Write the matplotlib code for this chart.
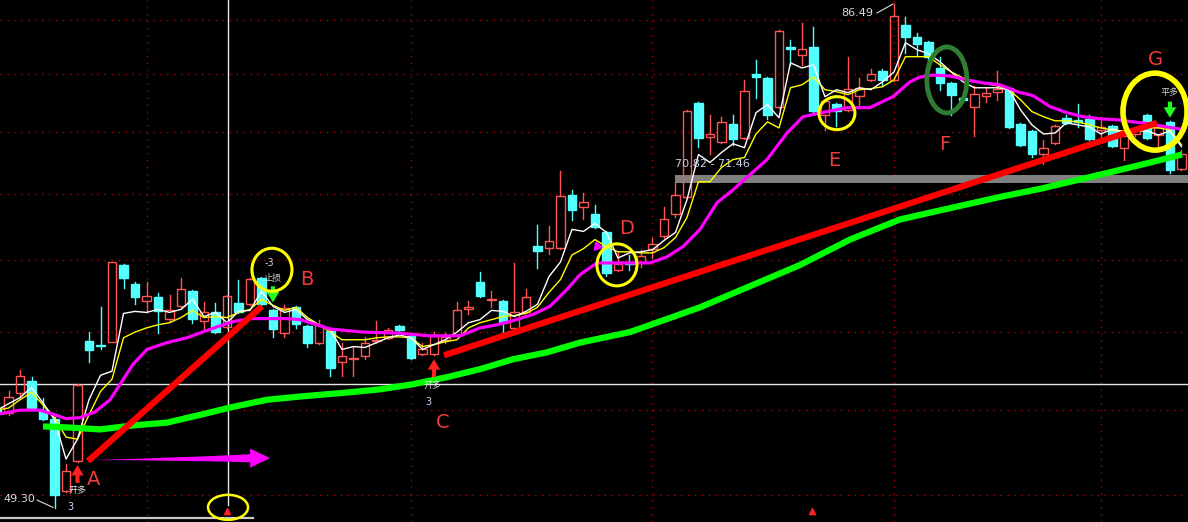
import numpy as np
import matplotlib.pyplot as plt
from matplotlib.patches import Ellipse, Rectangle
from matplotlib.transforms import ScaledTranslation

# daily candles (price), one per trading day
opens = [
    55.06, 54.82, 56.08, 56.79, 54.99, 54.47, 50.26, 51.95, 59.42, 59.13,
    59.35, 64.66, 63.27, 62.08, 62.36, 60.90, 61.74, 62.78, 60.76, 61.32,
    60.34, 61.94, 61.87, 63.75, 61.46, 59.93, 61.67, 60.41, 59.29, 60.06,
    58.01, 58.20, 58.39, 59.42, 59.61, 60.41, 59.74, 58.52, 58.52, 59.48,
    59.80, 61.53, 63.41, 62.15, 62.08, 60.27, 61.32, 66.06, 65.91, 65.91,
    69.90, 69.00, 68.47, 67.04, 64.31, 64.87, 64.87, 65.84, 66.74, 68.47,
    69.75, 77.49, 74.58, 74.18, 75.67, 74.50, 79.99, 79.65, 77.14, 82.48,
    81.74, 82.48, 76.45, 77.40, 76.88, 78.09, 79.47, 80.27, 79.47, 84.50,
    83.40, 82.94, 80.54, 79.21, 77.92, 77.14, 78.09, 78.44, 78.78, 75.67,
    75.07, 73.21, 74.09, 76.19, 76.02, 76.10, 75.16, 75.50, 73.69, 74.82,
    76.45, 74.74, 75.84, 71.99]
highs = [
    55.19, 56.15, 57.49, 57.05, 55.76, 54.58, 51.78, 56.60, 59.99, 61.67,
    64.87, 64.73, 63.41, 63.41, 62.64, 62.50, 63.75, 62.85, 62.01, 61.94,
    62.50, 63.55, 63.75, 63.82, 61.53, 61.80, 61.74, 60.48, 60.83, 60.13,
    59.29, 59.03, 59.67, 60.76, 60.27, 60.48, 59.80, 59.29, 59.99, 59.93,
    62.01, 62.08, 64.17, 62.78, 62.15, 64.80, 62.92, 67.57, 67.49, 71.83,
    70.30, 70.06, 69.15, 67.12, 65.69, 65.39, 65.76, 66.66, 69.00, 70.86,
    76.88, 77.57, 76.45, 76.28, 76.45, 79.47, 81.28, 79.73, 84.04, 83.12,
    84.69, 84.32, 77.74, 77.49, 81.56, 79.65, 80.45, 80.45, 86.49, 85.25,
    83.77, 83.03, 81.56, 79.30, 78.09, 78.95, 78.78, 80.27, 78.87, 75.76,
    75.16, 74.34, 75.58, 76.45, 77.40, 76.45, 76.28, 75.58, 74.74, 75.33,
    76.54, 75.50, 75.93, 73.53]
lows = [
    54.70, 54.70, 55.76, 55.06, 54.41, 49.30, 50.20, 51.89, 58.01, 58.84,
    59.30, 62.99, 61.87, 61.32, 59.93, 60.69, 61.67, 60.62, 60.13, 59.93,
    60.27, 61.25, 61.80, 61.80, 59.67, 59.67, 60.27, 58.97, 59.22, 57.11,
    57.11, 57.11, 58.20, 59.29, 59.54, 60.06, 58.20, 58.46, 58.46, 59.29,
    59.74, 61.18, 62.36, 61.67, 59.99, 60.20, 61.25, 64.45, 65.46, 65.84,
    67.94, 68.09, 67.34, 63.89, 64.24, 64.31, 64.52, 65.16, 66.66, 68.17,
    69.68, 73.77, 73.13, 74.09, 73.93, 74.42, 77.92, 76.10, 77.05, 80.82,
    80.82, 76.71, 75.16, 75.50, 76.79, 77.05, 79.39, 78.95, 79.39, 81.92,
    81.74, 80.91, 78.61, 76.45, 77.57, 74.66, 77.57, 77.74, 75.33, 73.85,
    72.96, 72.32, 74.01, 75.67, 75.41, 74.34, 74.58, 73.77, 72.72, 74.66,
    74.42, 73.77, 71.67, 71.91]
closes = [
    54.82, 55.83, 57.11, 55.12, 54.47, 50.02, 51.37, 56.53, 58.78, 59.06,
    64.87, 63.75, 62.36, 62.43, 61.39, 61.46, 62.92, 60.90, 61.32, 59.99,
    62.43, 61.32, 63.68, 61.87, 60.20, 61.60, 60.55, 59.29, 60.48, 57.62,
    58.39, 58.26, 59.29, 59.48, 60.13, 60.13, 58.26, 58.90, 59.74, 59.67,
    61.46, 61.67, 62.43, 62.22, 60.62, 61.32, 62.36, 65.69, 66.44, 69.83,
    68.77, 69.37, 67.42, 64.10, 64.73, 64.73, 65.31, 66.21, 68.09, 69.90,
    76.79, 74.50, 74.82, 75.84, 74.42, 78.52, 79.73, 76.45, 83.95, 82.29,
    82.29, 76.79, 77.66, 76.79, 78.70, 78.78, 79.99, 79.47, 85.34, 83.40,
    82.75, 81.56, 79.21, 78.18, 77.74, 78.26, 78.35, 78.70, 75.41, 73.93,
    73.13, 73.69, 75.50, 75.76, 75.84, 74.42, 75.41, 73.85, 74.66, 75.16,
    74.50, 75.41, 71.91, 73.13]

# short averages (white, yellow), one value per candle
ma_white = [
    54.99, 55.38, 55.76, 56.40, 55.44, 54.41, 52.07, 53.24, 55.63, 57.17,
    57.43, 61.25, 61.39, 61.32, 61.53, 61.32, 61.53, 62.22, 61.04, 61.32,
    60.62, 61.39, 61.46, 62.78, 61.74, 61.32, 61.53, 60.83, 60.48, 60.13,
    58.84, 59.03, 58.97, 59.29, 59.61, 59.80, 59.61, 58.84, 59.16, 59.48,
    59.99, 60.62, 60.83, 61.46, 61.39, 61.04, 61.39, 61.88, 63.82, 64.87,
    67.27, 67.12, 67.72, 67.04, 65.16, 65.53, 65.61, 65.76, 66.44, 67.04,
    69.53, 73.13, 72.48, 73.29, 74.01, 73.69, 76.62, 77.31, 76.19, 81.00,
    80.54, 80.82, 78.00, 78.61, 78.35, 78.78, 78.61, 79.30, 80.17, 82.84,
    82.20, 81.83, 81.10, 80.17, 79.30, 78.78, 78.78, 78.78, 78.61, 76.88,
    75.58, 74.82, 74.90, 75.76, 75.58, 75.41, 74.82, 75.24, 74.90, 75.07,
    75.07, 74.74, 75.07, 73.77]
ma_yellow = [
    54.99, 55.12, 55.63, 56.08, 55.31, 54.53, 53.36, 53.24, 54.70, 56.15,
    56.92, 59.61, 59.99, 60.27, 60.48, 60.62, 60.97, 61.46, 60.97, 61.04,
    60.97, 61.32, 61.53, 62.22, 61.81, 61.46, 61.67, 60.97, 60.48, 59.99,
    59.48, 59.48, 59.48, 59.61, 59.67, 59.67, 59.61, 59.03, 59.16, 59.35,
    59.48, 60.27, 60.62, 60.83, 61.04, 61.11, 61.25, 61.67, 62.71, 63.61,
    65.38, 65.84, 66.51, 65.99, 65.61, 65.61, 65.53, 65.53, 65.91, 66.66,
    68.17, 70.94, 70.94, 72.08, 72.72, 72.88, 74.82, 75.84, 75.33, 78.78,
    79.04, 79.73, 78.61, 78.44, 78.18, 78.61, 78.70, 78.87, 79.47, 81.56,
    81.56, 81.56, 80.82, 80.17, 79.65, 79.30, 79.13, 78.95, 78.61, 77.74,
    76.71, 76.28, 75.93, 75.93, 75.84, 75.58, 75.33, 75.16, 75.07, 75.16,
    75.33, 75.33, 75.16, 73.93]

# magenta average, read at these day positions
mag_pos = [0.26, 2.0, 3.74, 5.04, 6.0, 7.22, 8.52, 9.83, 10.7, 11.83,
           13.04, 14.78, 16.52, 17.65, 19.13, 20.52, 22.0, 25.2, 26.35, 28.96,
           31.83, 34.78, 37.65, 40.26, 42.0, 43.48, 44.87, 46.6, 48.09, 49.57,
           50.7, 52.17, 53.3, 55.04, 56.78, 58.26, 59.65, 61.13, 62.61, 64.0,
           65.48, 66.96, 68.7, 70.09, 72.17, 73.9, 75.9, 77.91, 79.39, 80.26,
           81.39, 82.87, 84.35, 85.74, 87.22, 88.7, 90.09, 91.57, 93.04, 94.43,
           95.91, 97.39, 98.78, 100.26, 101.74, 102.87]
mag_val = [54.76, 54.99, 54.99, 54.70, 54.47, 54.53, 54.88, 55.63, 56.60, 57.88,
           58.84, 59.29, 59.61, 59.93, 60.34, 60.69, 60.90, 60.90, 60.83, 60.20,
           59.99, 59.93, 59.74, 59.74, 60.27, 60.48, 60.76, 61.18, 61.74, 62.92,
           63.96, 64.80, 64.80, 64.80, 64.80, 65.24, 65.99, 67.27, 69.30, 70.30,
           71.50, 72.72, 74.90, 76.28, 76.71, 77.05, 77.05, 78.00, 79.30, 79.73,
           79.90, 79.82, 79.47, 79.21, 79.04, 78.44, 78.09, 77.14, 76.62, 76.28,
           76.10, 76.02, 75.84, 75.67, 75.41, 75.24]

# long average (thick green)
green_pos = [4.0, 6.09, 8.96, 11.83, 14.78, 17.65, 20.52, 23.48, 26.35, 30.43,
             33.3, 36.17, 39.13, 42.0, 44.87, 47.83, 50.7, 55.04, 61.13, 69.83,
             74.17, 78.52, 87.22, 90.7, 95.91, 100.26, 103.04]
green_val = [54.00, 53.94, 53.82, 54.06, 54.23, 54.70, 55.19, 55.63, 55.83, 56.08,
             56.28, 56.60, 57.05, 57.56, 58.20, 58.65, 59.29, 59.99, 61.67, 64.65,
             66.51, 68.02, 69.75, 70.38, 71.50, 72.47, 73.13]

# hand drawn trend lines (start day, start price, end day, end price)
trend1 = (7.91, 51.95, 23.04, 61.74)
trend2 = (38.87, 58.46, 100.87, 75.76)

grid_prices = [50, 55, 60, 65, 70, 75, 80, 85]
month_lines = [13, 36, 57, 78, 96]
band_lo, band_hi = 70.82, 71.46
cursor_day = 20.09
cursor_price = 56.60

labels = ['A', 'B', 'C', 'D', 'E', 'F', 'G']
label_pos = [(8.43, 50.90), (26.96, 63.61), (38.78, 54.23), (54.78, 67.34),
             (72.78, 72.64), (82.43, 73.93), (100.78, 81.28)]

fig = plt.figure(figsize=(11.88, 5.22), dpi=100)
fig.patch.set_facecolor('black')
ax = fig.add_axes([0, 0, 1, 1])
ax.set_facecolor('black')
ax.set_yscale('log')
ax.set_xlim(0.26, 103.57)
ax.set_ylim(48.54, 86.88)
ax.axis('off')

grid_col = '#b40000'
for p in grid_prices:
    ax.axhline(p, color=grid_col, lw=1, ls=(0, (1, 4)), zorder=0)
for d in month_lines:
    ax.axvline(d, color=grid_col, lw=1, ls=(0, (1, 4)), zorder=0)

# grey price band with its label
ax.fill_between([58.96, 103.57], band_lo, band_hi, color='#808080', lw=0, zorder=1)
ax.text(58.96, 72.32, '%.2f - %.2f' % (band_lo, band_hi), color='#c8d2e6',
        fontsize=8, va='center', ha='left', zorder=6)

# cursor cross
ax.axhline(cursor_price, color='#e6e6e6', lw=1, zorder=1)
ax.plot([cursor_day, cursor_day], [49.45, 86.88], color='#e6e6e6', lw=1, zorder=1)
ax.plot([0.26, 22.26], [48.77, 48.77], color='#c8c8c8', lw=1.6, zorder=1)

up_col = '#ff5454'
dn_col = '#54ffff'
w = 0.74
for i, (o, h, l, c) in enumerate(zip(opens, highs, lows, closes)):
    if c > o:
        ax.add_patch(Rectangle((i - w / 2, o), w, c - o, fill=False, ec=up_col, lw=1, zorder=3))
        ax.plot([i, i], [c, h], color=up_col, lw=1, zorder=3)
        ax.plot([i, i], [l, o], color=up_col, lw=1, zorder=3)
    else:
        ax.plot([i, i], [l, h], color=dn_col, lw=1, zorder=3)
        ax.add_patch(Rectangle((i - w / 2, c), w, max(o - c, 0.02), fc=dn_col, ec=dn_col, lw=1, zorder=3))

days = np.arange(len(closes))
ax.plot(days, ma_yellow, color='#ffff00', lw=1, zorder=4)
ax.plot(days, ma_white, color='#ffffff', lw=1, zorder=4)
ax.plot(mag_pos, mag_val, color='#ff00ff', lw=2.3, zorder=5)
ax.plot(green_pos, green_val, color='#00ff00', lw=4.5, zorder=5, solid_capstyle='butt')
for t in (trend1, trend2):
    ax.plot([t[0], t[2]], [t[1], t[3]], color='#ff0000', lw=4.5, zorder=6, solid_capstyle='butt')

# magenta arrow from A: tapered shaft plus head
ax.annotate('', xy=(7.91, 52.01), xytext=(22.4, 52.12),
            arrowprops=dict(arrowstyle='wedge,tail_width=0.55,shrink_factor=0.35',
                            fc='#ff00ff', ec='none', mutation_scale=11,
                            shrinkA=0, shrinkB=0), zorder=6)
ax.annotate('', xy=(23.74, 52.13), xytext=(21.9, 52.12),
            arrowprops=dict(arrowstyle='simple,head_width=1.25,head_length=1.3,tail_width=0.5',
                            fc='#ff00ff', ec='none', mutation_scale=11,
                            shrinkA=0, shrinkB=0), zorder=6)


def arrow(x, tip, tail, color):
    ax.annotate('', xy=(x, tip), xytext=(x, tail),
                arrowprops=dict(arrowstyle='simple,head_width=0.9,head_length=0.75,tail_width=0.3',
                                fc=color, ec='none', mutation_scale=10,
                                shrinkA=0, shrinkB=0), zorder=7)


arrow(7, 51.72, 50.70, '#ff2020')
arrow(38, 58.20, 57.05, '#ff2020')
arrow(24, 62.01, 63.13, '#20ff20')
arrow(102, 76.19, 77.57, '#20ff20')

cjk = ['Noto Sans CJK SC', 'DejaVu Sans']
ax.text(7.0, 50.26, '开多', color='#e6e6e6', fontsize=6.5, family=cjk, ha='center', va='center', zorder=7)
ax.text(6.4, 49.34, '3', color='#d0d8ff', fontsize=7, ha='center', va='center', zorder=7)
ax.text(37.9, 56.53, '开多', color='#e6e6e6', fontsize=6.5, family=cjk, ha='center', va='center', zorder=7)
ax.text(37.5, 55.50, '3', color='#d0d8ff', fontsize=7, ha='center', va='center', zorder=7)
ax.text(23.65, 64.80, '-3', color='#d0d0d0', fontsize=7, ha='center', va='center', zorder=7)
ax.text(24.0, 63.68, '止损', color='#d0d0d0', fontsize=6.5, family=cjk, ha='center', va='center', zorder=7)
ax.text(102.0, 78.35, '平多', color='#d0d0d0', fontsize=6.5, family=cjk, ha='center', va='center', zorder=7)

# extreme price labels
ax.text(76.17, 85.63, '%.2f' % max(highs), color='#dcdcdc', fontsize=8, ha='right', va='center', zorder=7)
ax.plot([76.52, 77.91], [85.63, 86.49], color='#dcdcdc', lw=0.8, zorder=7)
ax.text(0.52, 49.79, '%.2f' % min(lows), color='#dcdcdc', fontsize=8, ha='left', va='center', zorder=7)
ax.plot([3.48, 4.87], [49.74, 49.34], color='#dcdcdc', lw=0.8, zorder=7)

for s, (x, y) in zip(labels, label_pos):
    ax.text(x, y, s, color='#f03c3c', fontsize=14, ha='center', va='center', zorder=7)


def ring(x, y, wpx, hpx, color, lw):
    tr = fig.dpi_scale_trans + ScaledTranslation(x, y, ax.transData)
    ax.add_patch(Ellipse((0, 0), wpx / 100, hpx / 100, fill=False, ec=color, lw=lw,
                         transform=tr, zorder=8))


ring(23.91, 64.31, 40, 43, '#ffff00', 2.2)
ring(53.91, 64.66, 40, 42, '#ffff00', 2.2)
ring(73.04, 76.58, 36, 33, '#ffff00', 2.2)
ring(100.7, 76.71, 64, 77, '#ffff00', 4)
ring(20.09, 49.34, 40, 25, '#ffff00', 1.8)
ring(82.6, 79.47, 40, 66, '#2e7d32', 3.5)

# small markers
for d in (20.0, 70.9):
    ax.plot([d], [49.15], marker='^', color='#ff2020', ms=4, zorder=7)
    ax.plot([d - 0.2, d + 0.2], [48.98, 48.98], color='#ff2020', lw=1, zorder=7)
ax.plot([52.17], [66.06], marker=(3, 0, 20), color='#ff00ff', ms=7, zorder=7)

fig.savefig('out.png', dpi=100, facecolor='black')
